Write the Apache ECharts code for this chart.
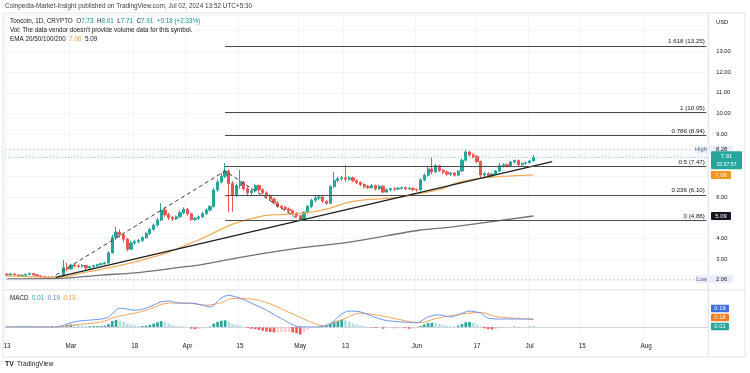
<!DOCTYPE html>
<html><head><meta charset="utf-8">
<script src="https://cdn.jsdelivr.net/npm/echarts@6/dist/echarts.min.js"></script>
<style>html,body{margin:0;padding:0;background:#fff}#c{width:750px;height:373px}</style>
</head><body><div id="c"></div>
<script>
// ---------- DATA ----------
const startDay = [2024, 1, 13];   // Feb 13, 2024 (month 0-based)
const dayCount = 187;             // category slots through mid-August
const tickDates  = ['2024-02-13','2024-03-01','2024-03-18','2024-04-01','2024-04-15','2024-05-01','2024-05-13','2024-06-01','2024-06-17','2024-07-01','2024-07-15','2024-08-01'];
const tickLabels = ['13','Mar','18','Apr','15','May','13','Jun','17','Jul','15','Aug'];

const opens  = [2.30,2.26,2.31,2.27,2.22,2.25,2.29,2.33,2.27,2.22,2.19,2.15,2.13,2.16,2.14,2.20,2.62,2.55,2.74,2.70,
2.68,2.72,2.60,2.66,2.70,2.76,2.80,2.84,3.32,4.08,4.32,4.18,3.98,3.50,3.80,3.86,3.92,4.05,4.25,4.45,
4.66,4.90,5.38,5.15,5.02,4.95,5.05,5.25,5.42,5.20,4.92,4.98,5.05,5.20,5.38,5.55,6.34,6.72,7.00,7.25,
6.65,6.10,6.55,6.70,6.40,6.20,6.30,6.55,6.35,6.20,6.05,5.90,5.72,5.55,5.50,5.42,5.35,5.20,5.10,4.92,
5.28,5.55,5.85,5.95,6.00,5.80,5.70,6.50,6.80,6.88,6.92,6.85,6.92,6.78,6.70,6.60,6.50,6.45,6.55,6.40,
6.52,6.24,6.35,6.40,6.38,6.42,6.45,6.40,6.42,6.36,6.34,6.82,7.05,7.35,7.20,7.50,7.28,7.20,7.10,7.15,
7.05,7.25,7.77,8.16,8.02,7.95,7.70,7.06,7.12,6.98,7.10,7.25,7.50,7.55,7.50,7.68,7.75,7.55,7.62,7.65,7.73];
const closes = [2.26,2.31,2.27,2.22,2.25,2.29,2.33,2.27,2.22,2.19,2.15,2.13,2.16,2.14,2.20,2.62,2.55,2.74,2.70,2.68,
2.72,2.60,2.66,2.70,2.76,2.80,2.84,3.32,4.08,4.32,4.18,3.98,3.50,3.80,3.86,3.92,4.05,4.25,4.45,4.66,
4.90,5.38,5.15,5.02,4.95,5.05,5.25,5.42,5.20,4.92,4.98,5.05,5.20,5.38,5.55,6.34,6.72,7.00,7.25,6.65,
6.10,6.55,6.70,6.40,6.20,6.30,6.55,6.35,6.20,6.05,5.90,5.72,5.55,5.50,5.42,5.35,5.20,5.10,4.92,5.28,
5.55,5.85,5.95,6.00,5.80,5.70,6.50,6.80,6.88,6.92,6.85,6.92,6.78,6.70,6.60,6.50,6.45,6.55,6.40,6.52,
6.24,6.35,6.40,6.38,6.42,6.45,6.40,6.42,6.36,6.34,6.82,7.05,7.35,7.20,7.50,7.28,7.20,7.10,7.15,7.05,
7.25,7.77,8.16,8.02,7.95,7.70,7.06,7.12,6.98,7.10,7.25,7.50,7.55,7.50,7.68,7.75,7.55,7.62,7.65,7.73,7.91];
const lows   = [2.22,2.22,2.23,2.18,2.18,2.21,2.25,2.22,2.17,2.13,2.10,2.06,2.09,2.08,2.11,2.17,2.44,2.50,2.62,2.60,
2.62,2.50,2.54,2.62,2.66,2.72,2.76,2.80,3.28,3.95,4.05,3.85,3.40,3.45,3.70,3.78,3.85,4.00,4.18,4.38,
4.58,4.85,5.05,4.90,4.85,4.90,5.00,5.18,5.10,4.85,4.85,4.90,5.00,5.15,5.30,5.50,6.25,6.65,6.90,5.28,
5.30,6.00,6.40,6.30,6.10,6.10,6.22,6.25,6.12,5.95,5.82,5.65,5.48,5.40,5.35,5.28,5.12,5.02,4.88,4.88,
5.20,5.48,5.75,5.85,5.72,5.62,5.68,6.42,6.70,6.78,6.75,6.78,6.70,6.62,6.52,6.42,6.38,6.40,6.32,6.35,
6.18,6.20,6.28,6.30,6.33,6.36,6.33,6.34,6.28,6.26,6.30,6.75,6.98,7.10,7.15,7.20,7.10,7.02,7.02,6.98,
7.00,7.20,7.70,7.95,7.85,7.62,6.90,6.95,6.90,6.92,7.05,7.20,7.42,7.42,7.45,7.60,7.48,7.50,7.55,7.60,7.71];
const highs  = [2.35,2.36,2.35,2.30,2.29,2.33,2.38,2.36,2.30,2.25,2.22,2.19,2.20,2.20,2.24,2.98,2.86,2.80,2.82,2.76,
2.78,2.75,2.70,2.75,2.80,2.85,2.90,3.40,4.20,4.56,4.45,4.28,4.05,3.90,3.95,4.00,4.12,4.32,4.52,4.74,
5.00,5.70,5.50,5.25,5.10,5.12,5.35,5.50,5.48,5.25,5.05,5.12,5.28,5.45,5.62,6.45,6.85,7.15,7.63,7.32,
6.75,6.65,7.30,6.78,6.50,6.42,6.62,6.60,6.42,6.28,6.12,5.98,5.80,5.62,5.58,5.50,5.40,5.28,5.15,5.32,
5.62,5.92,6.05,6.08,6.05,5.85,6.58,7.20,6.98,7.02,7.53,7.00,6.98,6.85,6.75,6.65,6.58,6.62,6.60,6.58,
6.58,6.42,6.45,6.46,6.48,6.50,6.50,6.48,6.46,6.42,6.90,7.12,7.45,7.92,7.58,7.55,7.35,7.28,7.20,7.20,
7.30,7.85,8.28,8.20,8.10,8.00,7.75,7.20,7.18,7.16,7.30,7.62,7.62,7.60,7.72,7.80,7.80,7.66,7.70,7.78,8.01];

// EMA lines as [dayIndex, price]
const emaOrange = [[0,2.22],[14,2.15],[20,2.36],[27,2.60],[33,2.84],[39,3.13],[43,3.36],[47,3.65],[51,3.94],[55,4.28],
[60,4.70],[64,4.92],[69,5.12],[77,5.20],[81,5.28],[86,5.47],[90,5.71],[95,5.86],[105,6.00],[109,6.15],[115,6.35],[120,6.70],[126,6.91],[140,7.06]];
const emaGray = [[0,2.08],[14,2.10],[25,2.26],[34,2.36],[47,2.65],[51,2.74],[64,3.17],[78,3.56],[91,3.84],[110,4.42],[118,4.56],[140,5.09]];

// Drawings
const trendLine = [[13,2.15],[145,7.70]];
const fibPath   = [[13,2.26],[58,7.25],[78,4.88]];
const fibStart  = 58;
const fibRatios = ['0','0.236','0.5','0.786','1','1.618'];
const fibPrices = [4.88,6.10,7.47,8.94,10.05,13.25];
const highPrice = 8.28, lowPrice = 2.06;
const emaOrangeLast = 7.06, emaGrayLast = 5.09;

// MACD pane
const macdLine = [[0,0.00],[13,0.00],[17,0.10],[19,0.14],[25,0.19],[27,0.24],[29,0.40],[30,0.45],[34,0.40],[37,0.45],[41,0.60],[43,0.62],
[46,0.57],[49,0.57],[52,0.52],[54,0.48],[57,0.69],[59,0.76],[60,0.74],[62,0.69],[65,0.57],[69,0.40],[73,0.20],[78,0.00],[82,0.00],
[86,0.07],[89,0.31],[91,0.38],[94,0.36],[100,0.17],[105,0.12],[109,0.10],[112,0.24],[115,0.29],[118,0.24],[120,0.29],[123,0.38],
[126,0.33],[128,0.21],[132,0.19],[136,0.19],[140,0.19]];
const signalLine = [[0,0.00],[13,0.00],[18,0.05],[25,0.12],[29,0.24],[34,0.33],[37,0.40],[43,0.57],[48,0.57],[53,0.52],[57,0.58],
[60,0.68],[65,0.67],[70,0.55],[75,0.35],[80,0.15],[84,0.03],[89,0.17],[94,0.33],[100,0.26],[107,0.13],[110,0.10],[114,0.20],
[121,0.31],[126,0.35],[130,0.25],[140,0.18]];
const macdHist = [0.01,0.00,-0.01,0.01,0.02,0.01,0.01,0.00,-0.01,-0.02,-0.01,-0.01,-0.02,-0.01,0.00,
0.03,0.05,0.06,0.05,0.04,0.03,0.02,0.02,0.02,0.02,0.02,0.03,0.07,0.14,0.17,0.15,0.12,0.08,0.06,0.04,
0.02,0.02,0.03,0.05,0.08,0.11,0.14,0.12,0.08,0.05,0.03,0.02,0.01,0.00,-0.04,-0.05,-0.05,-0.04,-0.02,0.01,
0.08,0.12,0.15,0.16,0.12,0.07,0.05,0.04,0.01,-0.02,-0.04,-0.05,-0.07,-0.09,-0.11,-0.12,-0.13,-0.13,-0.12,-0.12,
-0.12,-0.13,-0.15,-0.18,-0.12,-0.07,-0.03,0.00,0.01,0.01,0.02,0.08,0.13,0.15,0.17,0.16,0.12,0.09,0.06,0.04,
0.02,0.00,-0.01,-0.02,-0.02,-0.04,-0.03,-0.02,-0.03,-0.03,-0.02,-0.03,-0.04,-0.04,-0.03,0.02,0.06,0.09,0.10,0.09,
0.07,0.05,0.03,0.02,0.01,0.03,0.07,0.11,0.12,0.10,0.06,0.01,-0.03,-0.05,-0.06,-0.05,-0.03,-0.02,-0.01,0.00,
0.01,-0.01,0.00,0.00,0.01,0.01];
const macdLegend = ['0.01','0.19','0.18'];

// ---------- BUILD ----------
const dates = [];
for (let i = 0; i < dayCount; i++) {
  const d = new Date(Date.UTC(startDay[0], startDay[1], startDay[2] + i));
  dates.push(d.toISOString().slice(0, 10));
}
const candles = opens.map((o, i) => [o, closes[i], lows[i], highs[i]]);
const histData = macdHist.map((v, i) => {
  const p = i > 0 ? macdHist[i - 1] : 0;
  let c;
  if (v >= 0) c = v >= p ? '#26a69a' : '#b2dfdb';
  else c = v < p ? '#ff5252' : '#ffcdd2';
  return { value: v, itemStyle: { color: c } };
});

const FONT = 'Liberation Sans, Arial, sans-serif';
const TXT = '#131722';
const UP = '#26a69a', DOWN = '#ef5350';
const isTick = (idx) => tickDates.indexOf(dates[idx]) >= 0;
const GL = 5.12, GW = 703.12;
const F = '6.3px ' + FONT, FS = '5.8px ' + FONT;

const fibMarks = fibPrices.map((p, k) => [
  { coord: [fibStart, p], lineStyle: { color: '#4a4a4a', width: 1.2, type: 'solid' },
    label: { show: true, position: 'insideEndTop', formatter: fibRatios[k] + ' (' + p.toFixed(2) + ')',
      color: TXT, fontSize: 6.2, fontFamily: FONT, distance: 1.5 } },
  { coord: [dayCount - 1, p] }
]);

const chart = echarts.init(document.getElementById('c'), null, { renderer: 'canvas' });
const option = {
  animation: false,
  backgroundColor: '#fff',
  grid: [
    { left: GL, width: GW, top: 15, height: 274 },
    { left: GL, width: GW, top: 291, height: 46 }
  ],
  xAxis: [
    { type: 'category', data: dates, gridIndex: 0, boundaryGap: true,
      axisLine: { show: false }, axisTick: { show: false }, axisLabel: { show: false },
      splitLine: { show: true, interval: isTick, lineStyle: { color: '#f3f4f7', width: 1 } } },
    { type: 'category', data: dates, gridIndex: 1, boundaryGap: true,
      axisLine: { show: true, lineStyle: { color: '#e0e3eb' } }, axisTick: { show: false },
      axisLabel: { show: true, interval: isTick, margin: 6, fontSize: 6.3, color: TXT, fontFamily: FONT,
        formatter: (v) => { const k = tickDates.indexOf(v); return k >= 0 ? tickLabels[k] : ''; } },
      splitLine: { show: true, interval: isTick, lineStyle: { color: '#f3f4f7', width: 1 } } }
  ],
  yAxis: [
    { type: 'value', gridIndex: 0, position: 'right', min: 1.59, max: 14.73, splitNumber: 13, scale: true,
      axisLine: { show: false }, axisTick: { show: false },
      splitLine: { show: true, lineStyle: { color: '#f3f4f7' } },
      axisLabel: { margin: 8, fontSize: 5.8, color: TXT, fontFamily: FONT, showMinLabel: false, showMaxLabel: false,
        formatter: (v) => {
          if (Math.abs(v - Math.round(v)) > 1e-6) return '';
          const r = Math.round(v);
          if ([2, 5, 7, 8, 14].indexOf(r) >= 0) return '';
          return r.toFixed(2);
        } } },
    { type: 'value', gridIndex: 1, min: -0.24, max: 0.86, show: false, splitLine: { show: false } }
  ],
  series: [
    { type: 'candlestick', xAxisIndex: 0, yAxisIndex: 0, data: candles, barWidth: '72%',
      itemStyle: { color: UP, color0: DOWN, borderColor: UP, borderColor0: DOWN, borderWidth: 1 },
      markLine: { silent: true, symbol: ['none', 'none'], animation: false,
        data: [
          { yAxis: highPrice, lineStyle: { color: '#d1d4dc', type: [2, 2], width: 1 }, label: { show: false } },
          { yAxis: lowPrice, lineStyle: { color: '#d1d4dc', type: [2, 2], width: 1 }, label: { show: false } },
          { yAxis: closes[closes.length - 1], lineStyle: { color: '#7fcbc3', type: [1, 2], width: 1 }, label: { show: false } }
        ].concat(fibMarks) } },
    { type: 'line', xAxisIndex: 0, yAxisIndex: 0, data: emaGray, symbol: 'none', smooth: 0.3,
      lineStyle: { color: '#6f7178', width: 1.3 }, silent: true, z: 3 },
    { type: 'line', xAxisIndex: 0, yAxisIndex: 0, data: emaOrange, symbol: 'none', smooth: 0.3,
      lineStyle: { color: '#f0ad5a', width: 1.3 }, silent: true, z: 3 },
    { type: 'line', xAxisIndex: 0, yAxisIndex: 0, data: trendLine, symbol: 'none',
      lineStyle: { color: '#1c1c1c', width: 1.2 }, silent: true, z: 4 },
    { type: 'line', xAxisIndex: 0, yAxisIndex: 0, data: fibPath, symbol: 'none',
      lineStyle: { color: '#3a3a3a', width: 1, type: [4, 3] }, silent: true, z: 4 },
    { type: 'bar', xAxisIndex: 1, yAxisIndex: 1, data: histData, barWidth: '70%', silent: true,
      markLine: { silent: true, symbol: ['none', 'none'], label: { show: false },
        data: [{ yAxis: 0, lineStyle: { color: '#c3c6ce', type: [2, 2], width: 1 } }] } },
    { type: 'line', xAxisIndex: 1, yAxisIndex: 1, data: signalLine, symbol: 'none', smooth: 0.3,
      lineStyle: { color: '#f2a65e', width: 1 }, silent: true },
    { type: 'line', xAxisIndex: 1, yAxisIndex: 1, data: macdLine, symbol: 'none', smooth: 0.3,
      lineStyle: { color: '#6b95ee', width: 1 }, silent: true }
  ]
};
chart.setOption(option);

// ---------- ANNOTATIONS (positioned through the axes) ----------
const yP = (v) => chart.convertToPixel({ yAxisIndex: 0 }, v);
const yM = (v) => chart.convertToPixel({ yAxisIndex: 1 }, v);
const axisX = GL + GW;
const g = [];
function txt(x, y, text, opts) {
  g.push({ type: 'text', x: x, y: y, silent: true, z: 100,
    style: Object.assign({ text: text, fill: TXT, font: F, textVerticalAlign: 'middle', textAlign: 'left' }, opts || {}) });
}
function tag(x, yc, w, h, fill, text, color) {
  g.push({ type: 'rect', silent: true, z: 100, shape: { x: x, y: yc - h / 2, width: w, height: h, r: 1 }, style: { fill: fill } });
  txt(x + w / 2, yc, text, { fill: color, textAlign: 'center', font: FS });
}
// frame & separators
g.push({ type: 'rect', silent: true, z: 90, shape: { x: 3, y: 13, width: 742, height: 344 }, style: { fill: 'none', stroke: '#e0e3eb', lineWidth: 1 } });
g.push({ type: 'line', silent: true, z: 90, shape: { x1: axisX, y1: 13, x2: axisX, y2: 357 }, style: { stroke: '#e0e3eb', lineWidth: 1 } });
g.push({ type: 'line', silent: true, z: 90, shape: { x1: 3, y1: 290, x2: 745, y2: 290 }, style: { stroke: '#e0e3eb', lineWidth: 1 } });

// header & legends
txt(5, 6.5, 'Coinpedia-Market-Insight published on TradingView.com, Jul 02, 2024 13:52 UTC+5:30', { fill: '#3d3d3d', font: '6.4px ' + FONT });
const last = opens.length - 1;
const chg = closes[last] - closes[last - 1];
const pct = chg / closes[last - 1] * 100;
g.push({ type: 'text', x: 10, y: 21, silent: true, z: 100, style: {
  text: '{d|Toncoin, 1D, CRYPTO}  {d|O}{g|' + opens[last].toFixed(2) + '}  {d|H}{g|' + highs[last].toFixed(2) + '}  {d|L}{g|' +
        lows[last].toFixed(2) + '}  {d|C}{g|' + closes[last].toFixed(2) + '}  {g|+' + chg.toFixed(2) + ' (+' + pct.toFixed(2) + '%)}',
  textVerticalAlign: 'middle', font: F,
  rich: { d: { fill: TXT, font: F }, g: { fill: '#089981', font: F } } } });
txt(10, 30, "Vol: The data vendor doesn't provide volume data for this symbol.");
g.push({ type: 'text', x: 10, y: 39, silent: true, z: 100, style: {
  text: '{d|EMA 20/50/100/200}  {o|' + emaOrangeLast.toFixed(2) + '}  {d|' + emaGrayLast.toFixed(2) + '}',
  textVerticalAlign: 'middle', font: F,
  rich: { d: { fill: TXT, font: F }, o: { fill: '#f09a36', font: F } } } });
g.push({ type: 'text', x: 10, y: 298, silent: true, z: 100, style: {
  text: '{d|MACD}  {t|' + macdLegend[0] + '}  {b|' + macdLegend[1] + '}  {o|' + macdLegend[2] + '}',
  textVerticalAlign: 'middle', font: F,
  rich: { d: { fill: TXT, font: F }, t: { fill: '#26a69a', font: F },
          b: { fill: '#5b86e5', font: F }, o: { fill: '#f0a050', font: F } } } });
txt(716, 22, 'USD', { font: FS });

// price-axis tags
const yHigh = yP(highPrice), yLow = yP(lowPrice);
g.push({ type: 'rect', silent: true, z: 99, shape: { x: 696, y: yHigh - 4, width: 37, height: 8 }, style: { fill: '#e9eefa' } });
txt(707, yHigh, 'High', { textAlign: 'right', fill: '#4b5c86', font: FS });
txt(716, yHigh, highPrice.toFixed(2), { font: FS });
g.push({ type: 'rect', silent: true, z: 99, shape: { x: 696, y: yLow - 4, width: 37, height: 8 }, style: { fill: '#e9eefa' } });
txt(707, yLow, 'Low', { textAlign: 'right', fill: '#4b5c86', font: FS });
txt(716, yLow, lowPrice.toFixed(2), { font: FS });

const yc = yP(closes[last]);
g.push({ type: 'rect', silent: true, z: 100, shape: { x: 711, y: yc - 6, width: 31, height: 18, r: 1 }, style: { fill: '#26a69a' } });
txt(726.5, yc - 0.5, closes[last].toFixed(2), { fill: '#fff', textAlign: 'center', font: FS });
txt(726.5, yc + 7, '15:37:57', { fill: '#fff', textAlign: 'center', font: '5.2px ' + FONT });
tag(711, yP(emaOrangeLast), 20, 8, '#f7941d', emaOrangeLast.toFixed(2), '#fff');
tag(711, yP(emaGrayLast), 20, 8, '#131722', emaGrayLast.toFixed(2), '#fff');

// MACD tags (stacked upwards from histogram value)
const y0 = yM(parseFloat(macdLegend[0]));
tag(711, y0 - 18, 18, 7.5, '#3f6ee0', macdLegend[1], '#fff');
tag(711, y0 - 9, 18, 7.5, '#f27b1d', macdLegend[2], '#fff');
tag(711, y0, 18, 7.5, '#26a69a', macdLegend[0], '#fff');

// TradingView logo
txt(5, 364.5, 'TV', { font: 'bold 7px ' + FONT, fill: TXT });
txt(17, 364.5, 'TradingView', { font: '6.6px ' + FONT, fill: TXT });

chart.setOption({ graphic: g });
</script></body></html>
